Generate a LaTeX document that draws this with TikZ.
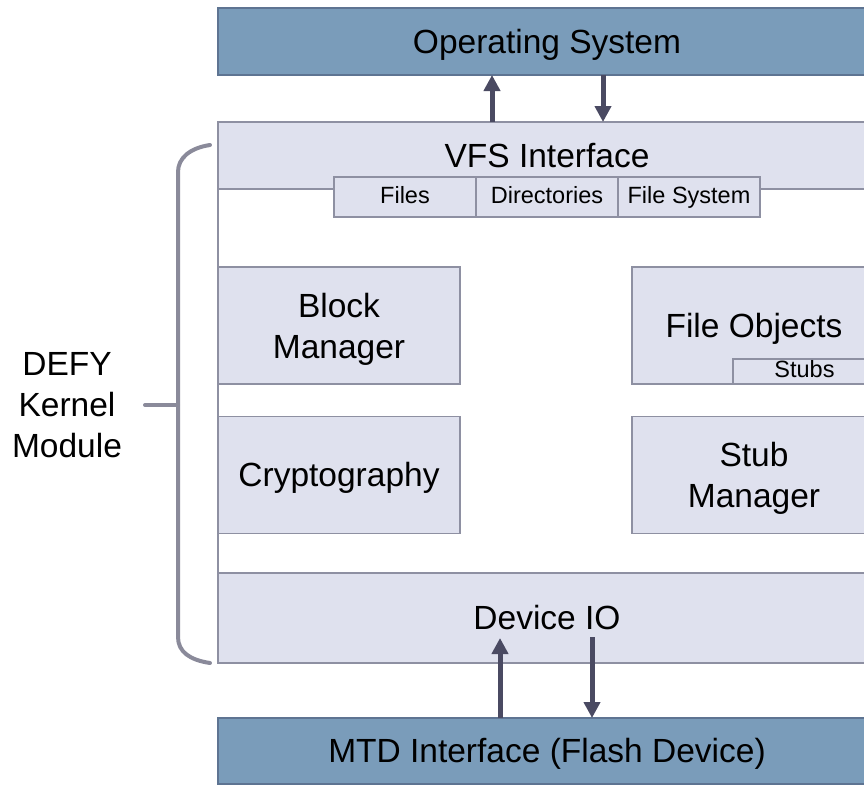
\documentclass[tikz,border=0pt]{standalone}
\usepackage{fontspec}
\setmainfont{Liberation Sans}
\usetikzlibrary{arrows.meta}

\definecolor{osblue}{HTML}{7A9CBA}
\definecolor{osline}{HTML}{5E7492}
\definecolor{lav}{HTML}{DFE1EE}
\definecolor{lavline}{HTML}{8E90A2}
\definecolor{arrdark}{HTML}{4A4A62}
\definecolor{bracegray}{HTML}{8A8A9A}

\def\lgfont{\fontsize{33.5}{41}\selectfont}
\def\smfont{\fontsize{23.5}{28}\selectfont}

\begin{document}
\begin{tikzpicture}[x=1pt,y=-1pt,
  every text node part/.style={align=center},
  layer/.style={draw=osline,fill=osblue,line width=1.5pt,inner sep=0pt,outer sep=0pt,font=\lgfont,text height=24.5pt,text depth=1pt},
  part/.style={draw=lavline,fill=lav,line width=1.2pt,inner sep=0pt,outer sep=0pt,font=\lgfont},
  single/.style={text height=24.5pt,text depth=1pt},
  double/.style={text depth=0pt},
  tab/.style={part,font=\smfont,text height=17pt,text depth=5pt},
  flow/.style={draw=arrdark,line width=5pt,-{Triangle[length=16pt,width=16pt]}},
  brace/.style={draw=bracegray,line width=4pt,line cap=round}]
  \useasboundingbox (0,0) rectangle (864,784);
  \clip (0,0) rectangle (864,784);

  \node[layer,minimum width=658pt,minimum height=67pt] (os) at (547,41.5) {Operating System};
  \node[draw=lavline,line width=1.2pt,minimum width=658pt,minimum height=541pt,outer sep=0pt] (mod) at (547,392.5) {};
  \node[part,single,minimum width=658pt,minimum height=67pt] (vfs) at (547,155.5) {VFS Interface};
  \node[tab,minimum width=142pt,minimum height=40pt] (files) at (405,197) {Files};
  \node[tab,minimum width=142pt,minimum height=40pt] (dirs) at (547,197) {Directories};
  \node[tab,minimum width=142pt,minimum height=40pt] (fsys) at (689,197) {File System};
  \node[part,double,minimum width=242pt,minimum height=117pt] (blk) at (339,325.5) {Block\\Manager};
  \node[part,single,minimum width=242pt,minimum height=117pt] (cry) at (339,475) {Cryptography};
  \node[part,single,minimum width=244pt,minimum height=117pt] (fobj) at (754,325.5) {File Objects};
  \node[tab,minimum width=143pt,minimum height=25pt] (stubs) at (804.5,371.5) {Stubs};
  \node[part,double,minimum width=244pt,minimum height=117pt] (stubm) at (754,475) {Stub\\Manager};
  \node[part,single,minimum width=658pt,minimum height=90pt] (dev) at (547,618) {Device IO};
  \node[layer,minimum width=658pt,minimum height=66pt] (mtd) at (547,751) {MTD Interface (Flash Device)};

  \draw[flow] ([xshift=-55pt]vfs.north) -- ([xshift=-55pt]os.south);
  \draw[flow] ([xshift=56pt]os.south) -- ([xshift=56pt]vfs.north);
  \draw[flow] ([xshift=-47pt]mtd.north) -- ([xshift=-47pt,yshift=25pt]dev.south);
  \draw[flow] ([xshift=45pt,yshift=26pt]dev.south) -- ([xshift=45pt]mtd.north);

  \node[font=\lgfont] (lbl) at (67,405) {DEFY\\Kernel\\Module};
  \draw[brace] (210,145) .. controls (190,148) and (178,158) .. (178,172) -- (178,637)
    .. controls (178,652) and (190,660) .. (210,663);
  \draw[brace] (178,405) -- (145,405);
\end{tikzpicture}
\end{document}
